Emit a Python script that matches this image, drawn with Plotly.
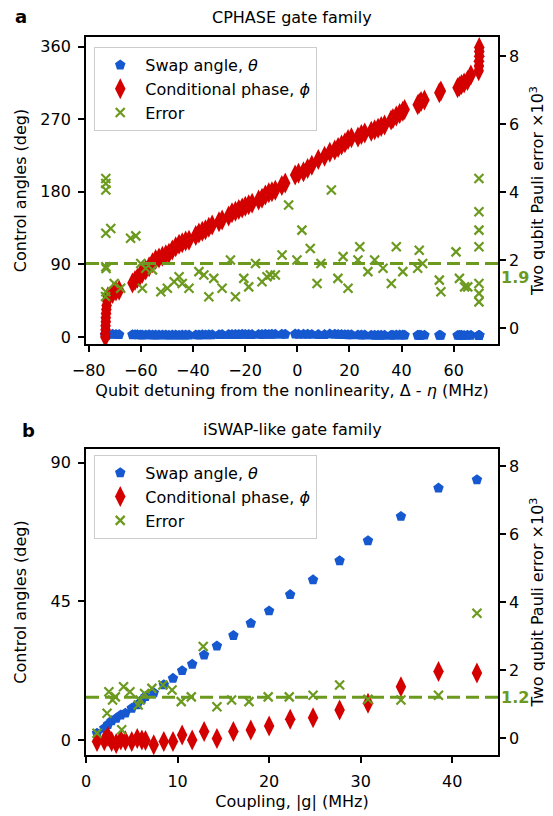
import plotly.graph_objects as go

# ---- panel a: CPHASE gate family ----
x_cp = [-73.6, -73.6, -73.5, -73.5, -73.4, -73.4, -73.3, -73.2, -73.1, -72.9, -72.6,
        -70.8, -69.5, -68.3, -63.2, -62.2, -61.3, -60.2, -59.4, -58.1, -56.8,
        -55.5, -54.3, -53.0, -51.7, -50.4, -49.2, -47.9, -46.6, -45.3, -44.1,
        -42.8, -41.5, -38.9, -37.7, -36.4, -35.2, -33.9, -32.6, -30.0, -28.8,
        -26.3, -25.0, -23.7, -22.4, -21.1, -19.9, -18.6, -17.3, -14.8, -13.5,
        -12.2, -10.9, -9.7, -8.4, -5.9, -4.6, -0.8, 0.5, 2.4, 4.0,
        5.6, 8.1, 10.5, 12.5, 14.4, 15.7, 17.0, 18.3, 19.5, 20.8,
        23.3, 24.6, 25.9, 28.4, 29.7, 31.0, 32.2, 33.5, 36.0, 36.7,
        38.0, 39.3, 40.5, 41.2, 46.2, 46.8, 47.5, 48.8, 54.5, 55.1,
        61.5, 62.2, 63.0, 64.0, 65.3, 66.6, 69.6, 69.7, 69.7, 69.8,
        69.8, 69.8]
phi_cp = [0, 4, 9, 14, 19, 24, 29, 34, 39, 45, 50,
          54, 57, 58, 67, 70, 73, 77, 79, 83, 87,
          92, 96, 98, 100, 102, 104, 108, 112, 115, 117,
          119, 120, 126, 129, 131, 133, 136, 139, 143, 145,
          150, 154, 156, 158, 160, 162, 164, 166, 170, 172,
          176, 179, 180, 182, 188, 191, 201, 203, 205, 209,
          213, 220, 224, 229, 232, 235, 238, 241, 245, 247,
          248, 251, 253, 255, 257, 259, 261, 263, 269, 271,
          274, 277, 280, 282, 288, 290, 292, 294, 303, 305,
          309, 311, 313, 315, 318, 325, 330, 336, 342, 348,
          354, 359]
theta_cp = [2.5, 2.5, 2.5, 2.5, 2.5, 2.5, 2.5, 2.5, 2.5, 2.8, 3.2,
            3.3, 3.2, 3.0, 2.8, 2.9, 2.7, 2.6, 2.5, 2.6, 2.7,
            2.5, 2.4, 2.5, 2.6, 2.4, 2.3, 2.4, 2.5, 2.3, 2.4,
            2.5, 2.4, 2.6, 2.5, 2.7, 2.6, 2.8, 2.7, 2.9, 3.0,
            3.1, 3.0, 3.2, 3.1, 3.3, 3.2, 3.1, 3.0, 3.2, 3.1,
            3.3, 3.2, 3.4, 3.3, 3.5, 3.4, 3.6, 3.5, 3.3, 3.4,
            3.2, 3.1, 3.0, 3.6, 3.4, 3.2, 3.0, 2.9, 2.8, 2.7,
            2.6, 2.5, 2.4, 2.3, 2.2, 2.2, 2.1, 2.1, 2.2, 2.3,
            2.4, 2.5, 2.4, 2.3, 2.2, 2.1, 2.2, 2.3, 2.1, 2.0,
            2.0, 2.1, 2.1, 2.0, 2.2, 2.1, 2.0, 2.0, 2.0, 2.0,
            2.0, 2.0]
x_cp_err = [-73.4, -73.4, -73.4, -73.4, -71.5, -73.4, -73.3, -73.4, -73.5, -70.2,
            -67.7, -63.9, -61.9, -60.0, -59.4, -58.1, -55.5, -52.3, -49.8, -47.2,
            -45.3, -44.1, -41.5, -37.7, -35.8, -33.9, -32.0, -28.8, -25.6, -23.7,
            -20.5, -18.6, -16.0, -13.5, -11.6, -10.3, -8.4, -5.8, -3.3, -0.1,
            1.8, 5.0, 7.6, 9.1, 13.1, 15.6, 17.6, 19.5, 23.3, 24.0,
            27.1, 29.7, 32.9, 36.1, 38.0, 40.5, 46.2, 46.8, 48.1, 54.5,
            55.1, 60.9, 62.2, 64.2, 65.4, 69.7, 69.7, 69.7, 69.7, 69.7,
            69.7, 69.7]
err_cp = [4.40, 4.25, 4.06, 2.79, 2.93, 1.80, 1.75, 1.07, 0.93, 1.31,
          1.17, 2.64, 2.71, 1.90, 1.17, 1.76, 1.71, 1.07, 1.17, 1.36,
          1.51, 1.31, 1.17, 1.66, 1.56, 0.92, 1.46, 1.17, 2.00, 0.92,
          1.46, 1.21, 1.90, 1.36, 1.51, 1.56, 1.56, 2.15, 3.62, 2.00,
          2.88, 2.34, 1.31, 1.90, 4.06, 1.46, 2.10, 1.17, 2.00, 2.39,
          1.66, 2.00, 1.76, 1.31, 2.39, 1.66, 1.76, 2.29, 1.90, 1.41,
          1.07, 2.24, 1.46, 1.21, 1.21, 4.40, 3.42, 2.88, 2.39, 1.31,
          1.02, 0.77]
err_cp_mean = 1.9

# ---- panel b: iSWAP-like gate family ----
g_sw = [1.2, 2.0, 2.4, 2.8, 3.3, 3.8, 4.3, 5.0, 5.6, 6.1, 6.5, 7.4, 8.5, 9.5,
        10.5, 11.6, 12.9, 14.3, 16.1, 18.0, 20.0, 22.3, 24.8, 27.7, 30.8, 34.4, 38.5, 42.7]
theta_sw = [2.2, 3.8, 5.0, 6.2, 7.0, 8.1, 8.7, 10.3, 11.4, 13.0, 14.1, 15.3, 17.9, 20.0,
            22.5, 24.6, 27.6, 30.5, 33.9, 37.9, 41.9, 47.2, 52.0, 58.2, 64.7, 72.6, 81.8, 84.5]
phi_sw = [-0.5, -0.3, 1.1, -0.5, -1.2, 0.0, -0.3, -0.5, 0.5, 0.0, -0.2, -1.6, -0.5, -0.5,
          1.6, 0.0, 2.7, 0.5, 2.7, 3.2, 4.5, 6.7, 7.2, 9.7, 11.9, 17.3, 22.2, 21.7]
g_err = [1.2, 2.3, 2.5, 2.9, 3.2, 3.9, 4.1, 4.8, 5.7, 5.9, 6.4, 7.2, 8.4, 9.4,
         10.4, 11.5, 12.8, 14.3, 15.9, 17.8, 19.9, 22.2, 24.8, 27.7, 30.8, 34.4, 38.5, 42.7]
err_sw = [0.14, 0.73, 1.36, 1.12, 1.21, 0.24, 1.51, 1.36, 0.97, 1.12, 1.31, 1.46, 1.56, 1.41,
          1.07, 1.21, 2.69, 0.92, 1.12, 1.07, 1.21, 1.21, 1.26, 1.56, 1.14, 1.12, 1.26, 3.67]
err_sw_mean = 1.2

BLUE = "#1558d0"
RED = "#d40000"
GREEN = "#6b9a1f"
FONT = "DejaVu Sans"
FS = 16

fig = go.Figure()


def add_panel(x_a, th, ph, x_e, er, xa, ya, ya2, leg):
    fig.add_trace(go.Scatter(x=x_a, y=th, mode="markers", name="Swap angle, <i>θ</i>",
                             marker=dict(symbol="pentagon", size=11, color=BLUE),
                             xaxis=xa, yaxis=ya, legend=leg))
    fig.add_trace(go.Scatter(x=x_a, y=ph, mode="markers", name="Conditional phase, <i>ϕ</i>",
                             marker=dict(symbol="diamond-tall", size=15, color=RED),
                             xaxis=xa, yaxis=ya, legend=leg))
    fig.add_trace(go.Scatter(x=x_e, y=er, mode="markers", name="Error",
                             marker=dict(symbol="x-thin", size=9, color=GREEN,
                                         line=dict(width=2.2, color=GREEN)),
                             xaxis=xa, yaxis=ya2, legend=leg))


add_panel(x_cp, theta_cp, phi_cp, x_cp_err, err_cp, "x", "y", "y2", "legend")
add_panel(g_sw, theta_sw, phi_sw, g_err, err_sw, "x2", "y3", "y4", "legend2")

ax_common = dict(showline=True, linecolor="black", linewidth=1.8, ticks="outside",
                 ticklen=6, tickwidth=1.5, tickcolor="black", showgrid=False,
                 zeroline=False, automargin=False, tickfont=dict(size=FS, color="black"),
                 title_font=dict(size=FS, color="black"))
x_common = dict(ax_common, ticklabelstandoff=5, mirror=True, domain=[0, 1])
yl_common = dict(ax_common, ticklabelstandoff=4)

top_dom = [0.5724, 1.0]
bot_dom = [0.0, 0.4262]
leg_common = dict(xanchor="left", yanchor="top", bgcolor="rgba(255,255,255,0.85)",
                  bordercolor="#cccccc", borderwidth=1, font=dict(size=FS), itemwidth=40)

# the page body adds an 8 px offset, so margins are shifted to compensate
fig.update_layout(
    width=553, height=816,
    margin=dict(l=78, r=63, t=29, b=69),
    paper_bgcolor="white", plot_bgcolor="white",
    font=dict(family=FONT, size=FS, color="black"),
    xaxis=dict(x_common, anchor="y", range=[-81, 77],
               tickvals=[-80, -60, -40, -20, 0, 20, 40, 60],
               ticktext=["−80", "−60", "−40", "−20", "0", "20", "40", "60"],
               title=dict(text="Qubit detuning from the nonlinearity, Δ - <i>η</i> (MHz)",
                          standoff=6)),
    yaxis=dict(yl_common, domain=top_dom, anchor="x", range=[-8.7, 372],
               tickvals=[0, 90, 180, 270, 360],
               title=dict(text="Control angles (deg)", standoff=10)),
    yaxis2=dict(ax_common, overlaying="y", side="right", anchor="x", range=[-0.47, 8.56],
                tickvals=[0, 2, 4, 6, 8],
                title=dict(text="Two qubit Pauli error ×10<sup>3</sup>", standoff=14)),
    xaxis2=dict(x_common, anchor="y3", range=[0, 45],
                tickvals=[0, 10, 20, 30, 40],
                title=dict(text="Coupling, |g| (MHz)", standoff=6)),
    yaxis3=dict(yl_common, domain=bot_dom, anchor="x2", range=[-4.9, 94.5],
                tickvals=[0, 45, 90],
                title=dict(text="Control angles (deg)", standoff=20)),
    yaxis4=dict(ax_common, overlaying="y3", side="right", anchor="x2", range=[-0.5, 8.5],
                tickvals=[0, 2, 4, 6, 8],
                title=dict(text="Two qubit Pauli error ×10<sup>3</sup>", standoff=14)),
    legend=dict(leg_common, x=0.02, y=0.986),
    legend2=dict(leg_common, x=0.02, y=0.418),
    showlegend=True,
)

# mean error lines
fig.add_shape(type="line", xref="x domain", yref="y2", x0=0, x1=1, y0=err_cp_mean, y1=err_cp_mean,
              line=dict(color=GREEN, width=3, dash="13px,6px"))
fig.add_shape(type="line", xref="x2 domain", yref="y4", x0=0, x1=1, y0=err_sw_mean, y1=err_sw_mean,
              line=dict(color=GREEN, width=3, dash="13px,6px"))

annos = [
    dict(text="<b>1.9</b>", xref="x domain", yref="y2", x=1.003, y=err_cp_mean, yshift=-3,
         xanchor="left", yanchor="top", font=dict(size=FS, color=GREEN)),
    dict(text="<b>1.2</b>", xref="x2 domain", yref="y4", x=1.003, y=err_sw_mean,
         xanchor="left", yanchor="middle", font=dict(size=FS, color=GREEN)),
    dict(text="CPHASE gate family", xref="x domain", yref="paper", x=0.5, y=1.0, yshift=8,
         xanchor="center", yanchor="bottom", font=dict(size=FS)),
    dict(text="iSWAP-like gate family", xref="x2 domain", yref="paper", x=0.5, y=bot_dom[1],
         yshift=8, xanchor="center", yanchor="bottom", font=dict(size=FS)),
    dict(text="<b>a</b>", xref="paper", yref="paper", x=-0.178, y=1.0, yshift=8,
         xanchor="left", yanchor="bottom", font=dict(size=18)),
    dict(text="<b>b</b>", xref="paper", yref="paper", x=-0.16, y=bot_dom[1], yshift=6,
         xanchor="left", yanchor="bottom", font=dict(size=18)),
]
for a in annos:
    fig.add_annotation(showarrow=False, **a)

fig.write_html("out.html")
